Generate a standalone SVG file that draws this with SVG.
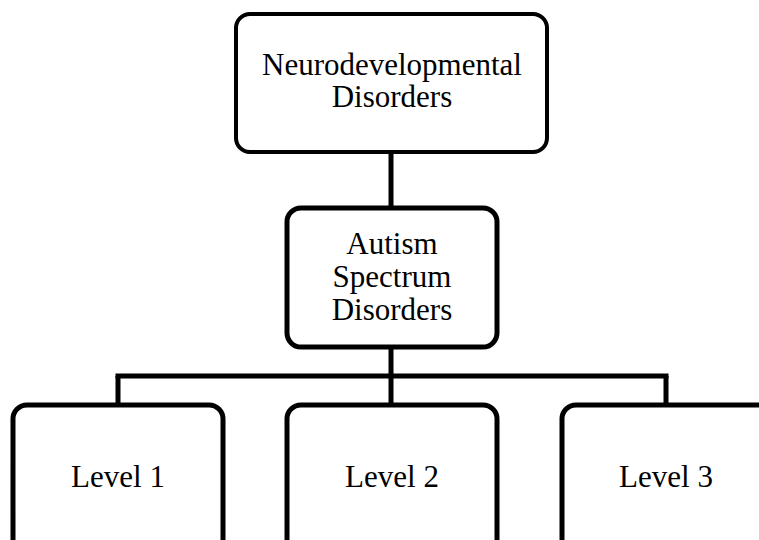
<svg xmlns="http://www.w3.org/2000/svg" width="759" height="540" viewBox="0 0 759 540">
  <style>
    .box { fill: #ffffff; stroke: #000000; stroke-width: 5; }
    .box-top { stroke-width: 4; }
    .link { fill: none; stroke: #000000; stroke-width: 5; }
    .label { font-family: "Liberation Serif", "Times New Roman", serif; font-size: 31px; fill: #000000; text-anchor: middle; }
  </style>
  <rect width="759" height="540" fill="#ffffff"/>
  <g id="connectors">
    <line class="link" x1="391" y1="152" x2="391" y2="208"/>
    <line class="link" x1="391" y1="347" x2="391" y2="404"/>
    <line class="link" x1="115.5" y1="376" x2="668.5" y2="376"/>
    <line class="link" x1="118" y1="376" x2="118" y2="405"/>
    <line class="link" x1="666" y1="376" x2="666" y2="405"/>
  </g>
  <g id="neurodevelopmental">
    <rect class="box box-top" x="236" y="14" width="311" height="138" rx="14"/>
    <text class="label" x="392" y="75">Neurodevelopmental</text>
    <text class="label" x="392" y="107">Disorders</text>
  </g>
  <g id="autism">
    <rect class="box" x="287" y="208" width="210" height="139" rx="14"/>
    <text class="label" x="392" y="254">Autism</text>
    <text class="label" x="392" y="287">Spectrum</text>
    <text class="label" x="392" y="320">Disorders</text>
  </g>
  <g id="level1">
    <rect class="box" x="13" y="405" width="210" height="150" rx="14"/>
    <text class="label" x="118" y="487">Level 1</text>
  </g>
  <g id="level2">
    <rect class="box" x="287" y="405" width="210" height="150" rx="14"/>
    <text class="label" x="392" y="487">Level 2</text>
  </g>
  <g id="level3">
    <rect class="box" x="562" y="405" width="210" height="150" rx="14"/>
    <text class="label" x="666" y="487">Level 3</text>
  </g>
</svg>
